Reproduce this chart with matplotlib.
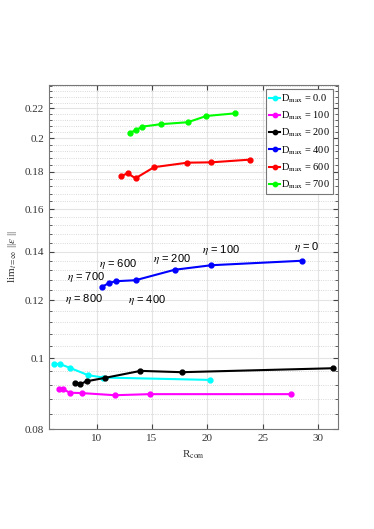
import matplotlib
matplotlib.use("Agg")
import matplotlib.pyplot as plt
from matplotlib.ticker import FixedLocator, MultipleLocator, NullFormatter

# R_com vs lim ||eps|| for each D_max
r_d0 = [6.18, 6.69, 7.6, 9.24, 10.6, 20.27]
e_d0 = [0.0982, 0.0982, 0.0970, 0.0948, 0.0941, 0.0934]
r_d100 = [6.63, 7.0, 7.57, 8.65, 11.65, 14.8, 27.54]
e_d100 = [0.0908, 0.0907, 0.0897, 0.0896, 0.0890, 0.0893, 0.0893]
r_d200 = [8.05, 8.52, 9.1, 10.75, 13.96, 17.68, 31.3]
e_d200 = [0.0926, 0.0922, 0.0930, 0.0940, 0.0961, 0.0957, 0.0969]
r_d400 = [10.5, 11.08, 11.71, 13.51, 17.05, 20.36, 28.52]
e_d400 = [0.1253, 0.1267, 0.1275, 0.1279, 0.1322, 0.1341, 0.1360]
r_d600 = [12.19, 12.79, 13.51, 15.19, 18.2, 20.36, 23.87]
e_d600 = [0.1775, 0.1792, 0.1764, 0.1827, 0.1853, 0.1855, 0.1871]
r_d700 = [12.97, 13.54, 14.14, 15.77, 18.23, 19.91, 22.52]
e_d700 = [0.2035, 0.2053, 0.2076, 0.2092, 0.2105, 0.2147, 0.2165]

labels = ["0.0", "100", "200", "400", "600", "700"]
colors = ["#00ffff", "#ff00ff", "#000000", "#0000ff", "#ff0000", "#00ff00"]

# eta annotations: text, x, y
eta_text = ["0", "100", "200", "400", "600", "700", "800"]
eta_x = [27.78, 19.49, 15.07, 12.82, 10.2, 7.32, 7.14]
eta_y = [0.1420, 0.1407, 0.1367, 0.1202, 0.1346, 0.1292, 0.1206]

plt.rcParams['font.family'] = ['Liberation Serif', 'DejaVu Serif']
plt.rcParams['mathtext.fontset'] = 'stix'

fig = plt.figure(figsize=(3.74, 5.29), dpi=100)
ax = fig.add_axes([0.131, 0.189, 0.773, 0.651])

series = [(r_d0, e_d0), (r_d100, e_d100), (r_d200, e_d200),
          (r_d400, e_d400), (r_d600, e_d600), (r_d700, e_d700)]
for (xs, ys), lab, c in zip(series, labels, colors):
    ax.plot(xs, ys, '-o', color=c, lw=1.5, ms=3.5,
            label=r"D$_{\rm max}$ = " + lab)

for t, x, y in zip(eta_text, eta_x, eta_y):
    ax.text(x, y, r"$\eta$ = " + t, fontsize=8, family='Liberation Sans',
            ha='left', va='center')

ax.set_yscale('log')
ax.set_xlim(5.7, 31.8)
ax.set_ylim(0.08, 0.237)
yt = [0.08, 0.1, 0.12, 0.14, 0.16, 0.18, 0.2, 0.22]
ax.yaxis.set_major_locator(FixedLocator(yt))
ax.set_yticklabels(["0.08", "0.1", "0.12", "0.14", "0.16", "0.18", "0.2", "0.22"])
ax.yaxis.set_minor_locator(MultipleLocator(0.004))
ax.yaxis.set_minor_formatter(NullFormatter())
ax.set_xticks([10, 15, 20, 25, 30])

ax.grid(True, which='major', color='#e4e4e4', lw=0.8)
ax.grid(True, which='minor', axis='y', color='#cccccc', lw=0.6, ls=':')
ax.set_axisbelow(True)
ax.tick_params(which='both', direction='in', top=True, right=True,
               labelsize=8, colors='#444444', labelcolor='#333333')
ax.tick_params(which='major', length=3.5)
ax.tick_params(which='minor', length=2)
for s in ax.spines.values():
    s.set_color('#777777')

ax.set_xlabel(r"R$_{\rm com}$", fontsize=8, color='#333333')
ax.set_ylabel(r"lim$_{t=\infty}$ ||$\epsilon$ ||", fontsize=8, color='#333333')

leg = ax.legend(loc='upper right', fontsize=7.5, fancybox=False, framealpha=1,
                edgecolor='#777777', handlelength=1.0, handletextpad=0.15,
                labelspacing=0.45, borderpad=0.3, borderaxespad=0.45,
                markerscale=0.9)
leg.get_frame().set_linewidth(0.8)

fig.savefig("out.png", dpi=100)
